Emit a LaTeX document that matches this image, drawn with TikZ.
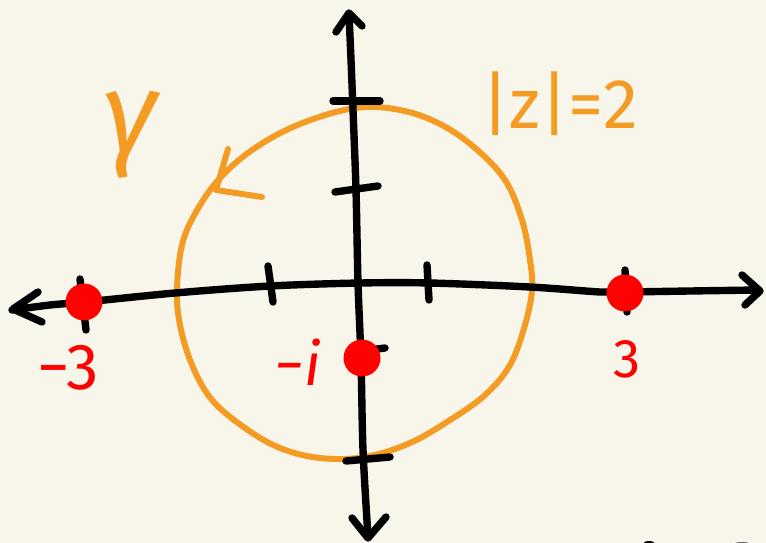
\documentclass[tikz,border=0pt]{standalone}
\usepackage{fontspec}
\setmainfont{Fira Sans}
\begin{document}
\begin{tikzpicture}[x=0.02cm,y=-0.02cm,
  axis/.style={line width=4.2pt,black,line cap=round,line join=round},
  orng/.style={line width=3.4pt,orangeC,line cap=round,line join=round},
  reddot/.style={circle,fill=redC,inner sep=0pt,minimum size=0.74cm},
  redlbl/.style={text=redC,inner sep=0pt},
  orglbl/.style={text=orangeC,inner sep=0pt}]
\definecolor{bgC}{RGB}{248,246,235}
\definecolor{orangeC}{RGB}{244,155,36}
\definecolor{redC}{RGB}{254,2,2}
\fill[bgC] (0,0) rectangle (766,543);
\useasboundingbox (0,0) rectangle (766,543);
% circle |z|=2
\draw[orng] plot[smooth cycle,tension=0.6] coordinates {(355,108) (400,110) (440,124) (475,148) (505,180) (522,220) (530,260) (532,290) (525,325) (510,365) (485,395) (450,420) (410,443) (365,457) (320,458) (280,448) (245,428) (212,400) (192,365) (180,325) (177,290) (182,245) (196,212) (220,178) (255,148) (300,124)};
% orientation arrow
\draw[orng] (228,149) -- (216,190) -- (262,197);
% axes
\draw[axis] plot[smooth] coordinates {(12,310) (50,305) (85,302) (175,293) (270,286) (360,283) (430,283) (530,287) (600,292) (625,292) (690,291) (757,290)};
\draw[axis] plot[smooth] coordinates {(349,14) (351,60) (353,110) (356,190) (358,283) (361,360) (363,450) (368,537)};
\draw[axis] (38,292) -- (13,309) -- (42,322);
\draw[axis] (742,275) -- (760,291) -- (745,305);
\draw[axis] (336,32) -- (349,13) -- (362,26);
\draw[axis] (352,518) -- (368,538) -- (386,517);
% ticks
\draw[axis] (333,101) -- (380,101);
\draw[axis] (335,192) -- (378,186);
\draw[axis] (346,461) -- (390,457);
\draw[axis] (355,352) -- (385,348);
\draw[axis] (268,266) -- (273,302);
\draw[axis] (427,265) -- (429,300);
\draw[axis] (80,279) -- (86,330);
\draw[axis] (625,270) -- (627,312);
% stray marks bottom right
\fill[black] (649,544) ellipse [x radius=6, y radius=3];
\fill[black!60] (742,544) ellipse [x radius=8, y radius=2];
% points
\node[reddot] (pm3) at (84,302) {};
\node[reddot] (pp3) at (625,293) {};
\node[reddot] (pmi) at (362,358) {};
% labels
\node[redlbl,font=\fontsize{37}{37}\selectfont] (lm3) at (68,368) {−3};
\node[redlbl,font=\fontsize{31}{31}\selectfont] (lp3) at (627,359) {3};
\node[redlbl,font=\fontsize{34}{34}\selectfont\itshape] (lmi) at (298,362) {−i};
\node[orglbl,font=\fontsize{40}{40}\selectfont] (lz) at (560,104) {|z|=2};
\node[orglbl,font=\fontsize{66}{66}\selectfont\itshape] (lg) at (130,135) {γ};
\end{tikzpicture}
\end{document}
